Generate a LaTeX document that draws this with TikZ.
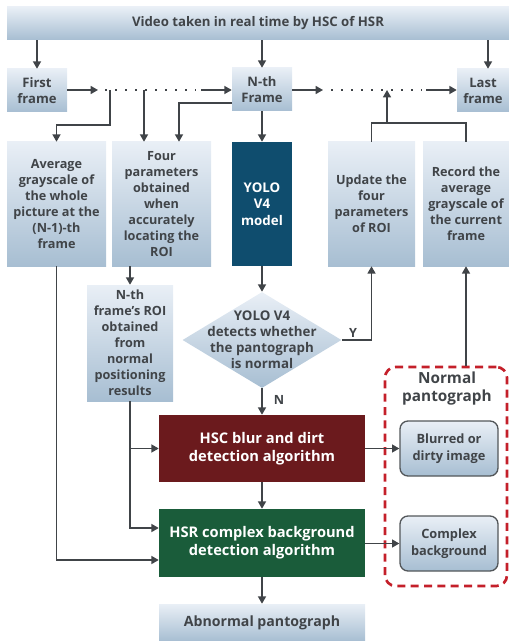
\documentclass[tikz,border=0pt]{standalone}
\usepackage{fontspec}
\setmainfont{Open Sans}
\usetikzlibrary{shapes.geometric,arrows.meta}
\definecolor{ink}{HTML}{404448}
\definecolor{boxtop}{HTML}{E9EFF6}
\definecolor{boxbot}{HTML}{A7BED2}
\definecolor{yoloblue}{HTML}{0F4D6E}
\definecolor{hscred}{HTML}{6B1A1D}
\definecolor{hsrgreen}{HTML}{1A5C3A}
\definecolor{dashred}{HTML}{C4202A}
% one drawing unit
\newdimen\pxu \pxu=0.75pt
\tikzset{
  x=0.75pt, y=-0.75pt,
  pale/.style={rectangle, top color=boxtop, bottom color=boxbot, draw=none,
    text=ink, font=\bfseries\fontsize{9.5}{12}\selectfont, align=center, inner sep=1pt},
  solid/.style={rectangle, draw=none, text=white,
    font=\bfseries\fontsize{11}{13.5}\selectfont, align=center, inner sep=1pt},
  roundbox/.style={rectangle, rounded corners=6pt, top color=boxtop, bottom color=boxbot,
    draw=ink!90, line width=1pt, text=ink, font=\bfseries\fontsize{9.6}{12.5}\selectfont,
    align=center, inner sep=1pt, minimum width=98\pxu, minimum height=55\pxu},
  link/.style={draw=ink, line width=1.1pt},
  arr/.style={link, -{Triangle[length=5.5pt,width=6pt]}},
  dots/.style={draw=ink, line width=1.3pt, dash pattern=on 1.3pt off 6.2pt},
  lbl/.style={text=ink, font=\bfseries\fontsize{9.5}{11}\selectfont, inner sep=0pt}
}
\begin{document}
\begin{tikzpicture}
\useasboundingbox (0,0) rectangle (509,641);

% source and frame row
\node[pale, minimum width=502\pxu, minimum height=33\pxu, font=\bfseries\fontsize{9.9}{12}\selectfont] (top) at (258,23.5) {Video taken in real time by HSC of HSR};
\node[pale, minimum width=60\pxu, minimum height=43\pxu, font=\bfseries\fontsize{9.8}{12}\selectfont] (first) at (37,90.5) {First\\frame};
\node[pale, minimum width=60\pxu, minimum height=43\pxu, font=\bfseries\fontsize{9.8}{12}\selectfont] (nth) at (262,89.5) {N-th\\Frame};
\node[pale, minimum width=52\pxu, minimum height=43\pxu, font=\bfseries\fontsize{9.8}{12}\selectfont] (last) at (483,90.5) {Last\\frame};

% second row
\node[pale, minimum width=99\pxu, minimum height=124\pxu] (avg) at (56.5,204) {Average\\grayscale of\\the whole\\picture at the\\(N-1)-th\\frame};
\node[pale, minimum width=99\pxu, minimum height=124\pxu] (four) at (161.5,204) {Four\\parameters\\obtained\\when\\accurately\\locating the\\ROI};
\node[solid, fill=yoloblue, minimum width=60\pxu, minimum height=124\pxu, font=\bfseries\fontsize{10}{12.5}\selectfont] (yolo) at (262,204) {YOLO\\V4\\model};
\node[pale, minimum width=87\pxu, minimum height=124\pxu] (update) at (371.5,204) {Update the\\four\\parameters\\of ROI};
\node[pale, minimum width=86\pxu, minimum height=124\pxu] (record) at (466,204) {Record the\\average\\grayscale of\\the current\\frame};

% ROI and decision
\node[pale, minimum width=86\pxu, minimum height=116\pxu] (roi) at (130,343) {N-th\\frame's ROI\\obtained\\from\\normal\\positioning\\results};
\node[diamond, top color=boxtop, bottom color=boxbot, draw=none, minimum width=159\pxu, minimum height=96\pxu, inner sep=0pt] (dia) at (262,340) {};
\node[lbl, align=center, font=\bfseries\fontsize{10}{12}\selectfont] (diatext) at (dia.center) {YOLO V4\\detects whether\\the pantograph\\is normal};

% detection algorithms
\node[solid, fill=hscred, minimum width=206\pxu, minimum height=67\pxu] (hsc) at (262,448.5) {HSC blur and dirt\\detection algorithm};
\node[solid, fill=hsrgreen, minimum width=206\pxu, minimum height=68\pxu] (hsr) at (262,543) {HSR complex background\\detection algorithm};
\node[pale, minimum width=206\pxu, minimum height=37\pxu, font=\bfseries\fontsize{10.6}{12}\selectfont] (abn) at (262,622.5) {Abnormal pantograph};

% normal pantograph group
\node[draw=dashred, line width=2pt, dash pattern=on 6pt off 4pt, rounded corners=8pt, minimum width=122\pxu, minimum height=219\pxu] (grp) at (446,476.5) {};
\node[lbl, align=center, font=\bfseries\fontsize{11.5}{13.5}\selectfont] (grptitle) at (447,389) {Normal\\pantograph};
\node[roundbox] (blur) at (449,448.5) {Blurred or\\dirty image};
\node[roundbox] (cplx) at (449,543.5) {Complex\\background};

% frame sequence
\coordinate (l1) at (98,90);
\coordinate (l2) at (201,90);
\coordinate (r1) at (323,90);
\coordinate (r2) at (426,90);
\coordinate (tapA) at (110,90);
\coordinate (tapB) at (144,90);
\coordinate (tapC) at (387,90);
\draw[arr] (top.south -| first.north) -- (first.north);
\draw[arr] (top.south -| nth.north) -- (nth.north);
\draw[arr] (top.south -| 488,0) -- (last.north -| 488,0);
\draw[arr] (first.east |- l1) -- (l1);
\draw[dots] (105,90) -- (196,90);
\draw[arr] (l2) -- (nth.west |- l2);
\draw[arr] (nth.east |- r1) -- (r1);
\draw[dots] (331,90) -- (422,90);
\draw[arr] (r2) -- (last.west |- r2);

% branches into the second row
\draw[arr] (tapA) -- (110,125) -| (avg.north);
\draw[arr] (tapB) -- (four.north -| tapB);
\draw[arr] (nth.west |- 0,103) -| (four.north -| 179,0);
\draw[arr] (nth.south) -- (yolo.north);
\draw[link] (update.north) -- (update.north |- 0,123) -| (record.north);
\draw[arr] (tapC |- 0,123) -- (tapC);

% decision flow
\draw[arr] (yolo.south) -- (dia.north);
\draw[arr] (dia.east) -| (update.south);
\node[lbl] (ylab) at (353,333) {Y};
\draw[arr] (dia.south) -- (hsc.north);
\node[lbl] (nlab) at (279,400) {N};
\draw[arr] (four.south -| roi.north) -- (roi.north);
\draw[arr] (roi.south) |- (hsc.west);
\draw[arr] (roi.south) |- (hsr.west |- 0,528);
\draw[arr] (avg.south) |- (hsr.west |- 0,560);
\draw[arr] (hsc.south) -- (hsr.north);
\draw[arr] (hsr.south) -- (abn.north);
\draw[arr] (hsc.east) -- (blur.west);
\draw[arr] (hsr.east |- cplx.west) -- (cplx.west);
\draw[arr] (grp.north -| record.south) -- (record.south);
\end{tikzpicture}
\end{document}
